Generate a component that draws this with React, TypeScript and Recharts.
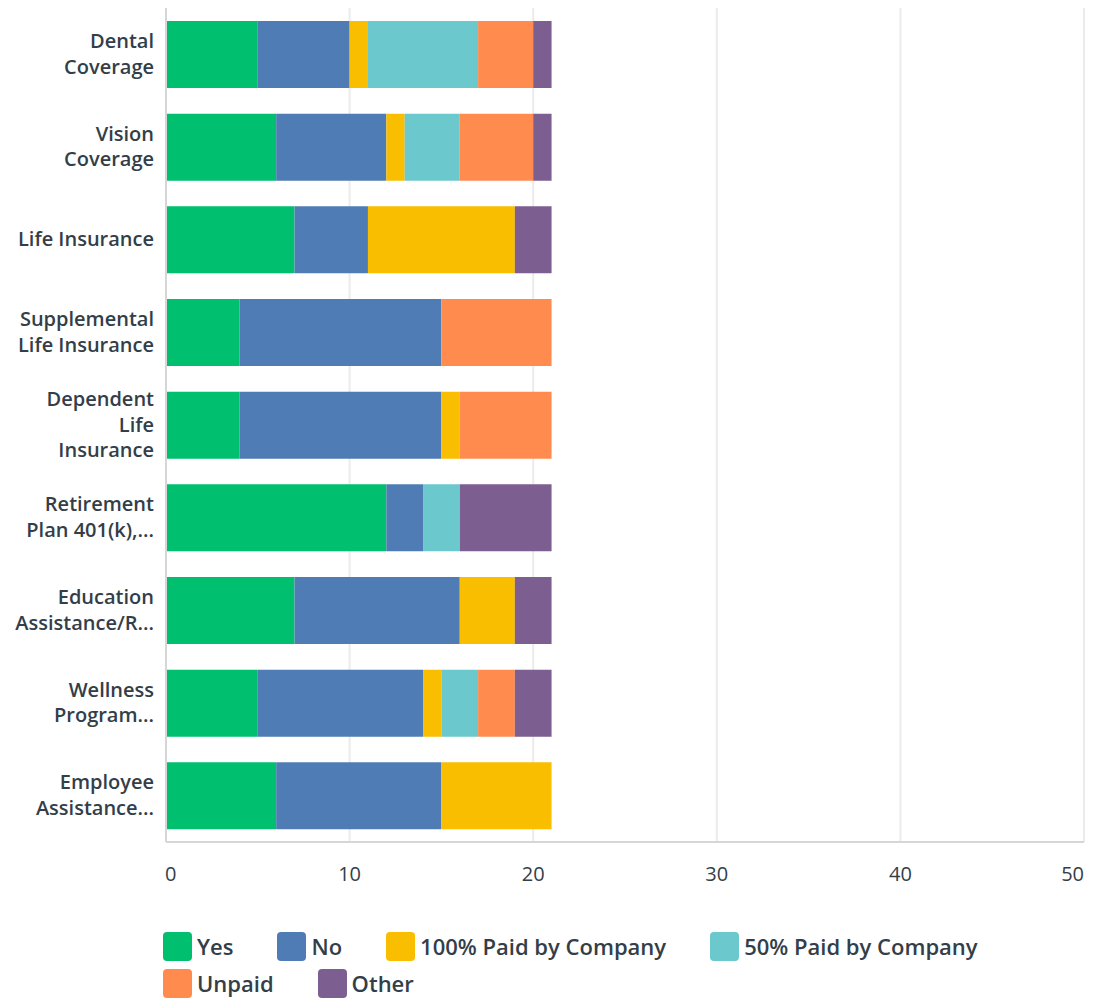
import React from 'react'
import { BarChart, Bar, XAxis, YAxis, CartesianGrid } from 'recharts'

const categories = [
  'Dental\nCoverage',
  'Vision\nCoverage',
  'Life Insurance',
  'Supplemental\nLife Insurance',
  'Dependent\nLife\nInsurance',
  'Retirement\nPlan 401(k),...',
  'Education\nAssistance/R...',
  'Wellness\nProgram...',
  'Employee\nAssistance...',
]

const yes = [5, 6, 7, 4, 4, 12, 7, 5, 6]
const no = [5, 6, 4, 11, 11, 2, 9, 9, 9]
const paid100 = [1, 1, 8, 0, 1, 0, 3, 1, 6]
const paid50 = [6, 3, 0, 0, 0, 2, 0, 2, 0]
const unpaid = [3, 4, 0, 6, 5, 0, 0, 2, 0]
const other = [1, 1, 2, 0, 0, 5, 2, 2, 0]

const xTicks = [0, 10, 20, 30, 40, 50]

const series = [
  { key: 'yes', label: 'Yes', color: '#00bf6f' },
  { key: 'no', label: 'No', color: '#507cb6' },
  { key: 'paid100', label: '100% Paid by Company', color: '#f9be00' },
  { key: 'paid50', label: '50% Paid by Company', color: '#6bc8cd' },
  { key: 'unpaid', label: 'Unpaid', color: '#ff8b4f' },
  { key: 'other', label: 'Other', color: '#7d5e90' },
]

const data = categories.map((name, i) => ({
  name,
  yes: yes[i],
  no: no[i],
  paid100: paid100[i],
  paid50: paid50[i],
  unpaid: unpaid[i],
  other: other[i],
}))

const FONT = '"Open Sans", sans-serif'
const TEXT = '#333e48'

function CategoryTick({ x, y, payload }: any) {
  const lines = String(payload.value).split('\n')
  const lh = 25.5
  const start = y - 1.5 - ((lines.length - 1) * lh) / 2
  return (
    <text
      x={x - 12}
      y={start}
      textAnchor="end"
      dominantBaseline="central"
      fontFamily={FONT}
      fontSize={20}
      fontWeight={600}
      fill={TEXT}
    >
      {lines.map((l, i) => (
        <tspan key={i} x={x - 12} y={start + i * lh}>
          {l}
        </tspan>
      ))}
    </text>
  )
}

function ValueTick({ x, y, payload }: any) {
  const v = payload.value
  const anchor = v === 0 ? 'start' : v === 50 ? 'end' : 'middle'
  const dx = v === 0 ? -1 : 0
  return (
    <text
      x={x + dx}
      y={y + 31}
      textAnchor={anchor}
      dominantBaseline="central"
      fontFamily={FONT}
      fontSize={20}
      fontWeight={500}
      fill={TEXT}
    >
      {v}
    </text>
  )
}

export default function App() {
  return (
    <div style={{ width: 1079, fontFamily: FONT }}>
      <style>{'html,body{overflow:hidden}'}</style>
      <BarChart
        width={1079}
        height={880}
        data={data}
        layout="vertical"
        margin={{ top: 0, right: 3, bottom: 0, left: 0 }}
      >
        <CartesianGrid horizontal={false} stroke="#ebebeb" strokeWidth={2} />
        <XAxis
          type="number"
          domain={[0, 50]}
          ticks={xTicks}
          height={46}
          tickLine={false}
          tickSize={0}
          tickMargin={0}
          axisLine={{ stroke: '#d6d6d6', strokeWidth: 2 }}
          tick={<ValueTick />}
          interval={0}
        />
        <YAxis
          type="category"
          dataKey="name"
          width={158}
          tickLine={false}
          tickSize={0}
          tickMargin={0}
          axisLine={{ stroke: '#d6d6d6', strokeWidth: 2 }}
          tick={<CategoryTick />}
          interval={0}
        />
        {series.map((s) => (
          <Bar
            key={s.key}
            dataKey={s.key}
            stackId="a"
            fill={s.color}
            barSize={67}
            isAnimationActive={false}
          />
        ))}
      </BarChart>
      <div
        style={{
          display: 'flex',
          flexWrap: 'wrap',
          marginLeft: 155,
          marginTop: 44,
          width: 920,
          columnGap: 44,
          rowGap: 8,
        }}
      >
        {series.map((s) => (
          <div key={s.key} style={{ display: 'flex', alignItems: 'center', height: 29 }}>
            <div
              style={{
                width: 29,
                height: 29,
                borderRadius: 4,
                backgroundColor: s.color,
                marginRight: 5,
              }}
            />
            <span style={{ fontSize: 22, lineHeight: '29px', fontWeight: 600, color: TEXT }}>
              {s.label}
            </span>
          </div>
        ))}
      </div>
    </div>
  )
}
